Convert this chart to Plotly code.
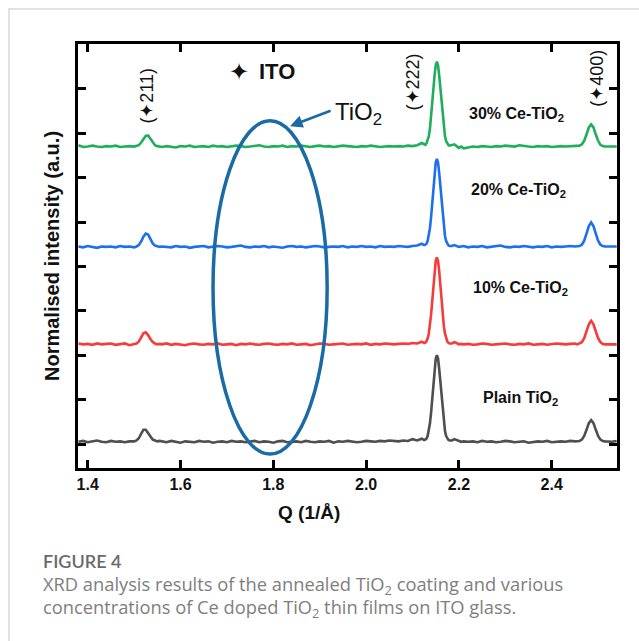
import plotly.graph_objects as go

# ---------------- data ----------------
Q_SCAN = [
    1.38, 1.39, 1.40, 1.41, 1.42, 1.43, 1.44, 1.45, 1.46, 1.47, 1.48, 1.49, 1.50,
    1.505, 1.51, 1.515, 1.52, 1.525, 1.53, 1.535, 1.54, 1.545, 1.55, 1.555,
    1.56, 1.57, 1.58, 1.59, 1.60, 1.61, 1.62, 1.63, 1.64, 1.65,
    1.66, 1.67, 1.68, 1.69, 1.70, 1.71, 1.72, 1.73, 1.74, 1.75,
    1.76, 1.77, 1.78, 1.79, 1.80, 1.81, 1.82, 1.83, 1.84, 1.85,
    1.86, 1.87, 1.88, 1.89, 1.90, 1.91, 1.92, 1.93, 1.94, 1.95,
    1.96, 1.97, 1.98, 1.99, 2.00, 2.01, 2.02, 2.03, 2.04, 2.05,
    2.06, 2.07, 2.08, 2.09, 2.10, 2.11, 2.12,
    2.125, 2.1275, 2.13, 2.1325, 2.135, 2.1375, 2.14, 2.1425, 2.145, 2.1475, 2.15, 2.1525,
    2.155, 2.1575, 2.16, 2.1625, 2.165, 2.1675, 2.17, 2.1725, 2.175, 2.1775, 2.18,
    2.185, 2.19, 2.195, 2.20, 2.205, 2.21,
    2.22, 2.23, 2.24, 2.25, 2.26, 2.27, 2.28, 2.29, 2.30, 2.31,
    2.32, 2.33, 2.34, 2.35, 2.36, 2.37, 2.38, 2.39, 2.40, 2.41,
    2.42, 2.43, 2.44, 2.45,
    2.455, 2.46, 2.465, 2.47, 2.475, 2.48, 2.485, 2.49, 2.495, 2.50, 2.505, 2.51, 2.515,
    2.52, 2.53, 2.54,
]

I_PLAIN = [
    0.0, 0.02, -0.01, 0.01, 0.03, 0.0, -0.01, 0.02, 0.0, 0.01, -0.01, 0.01, 0.01,
    0.03, 0.08, 0.18, 0.27, 0.27, 0.20, 0.11, 0.05, 0.03, 0.01, 0.02,
    0.01, -0.01, 0.02, 0.0, -0.02, 0.01, 0.0, -0.01, 0.02, 0.0,
    0.01, -0.02, 0.0, 0.01, -0.01, 0.02, 0.0, 0.01, -0.01, 0.0,
    0.02, -0.01, 0.01, 0.0, -0.02, 0.01, 0.02, -0.01, 0.0, 0.01,
    -0.01, 0.02, 0.0, -0.01, 0.01, 0.0, 0.02, -0.02, 0.01, 0.0,
    0.02, 0.01, -0.01, 0.0, 0.02, 0.01, 0.0, 0.02, 0.01, 0.03,
    0.02, 0.01, 0.03, 0.02, 0.06, 0.03, 0.07,
    0.04, 0.05, 0.07, 0.13, 0.24, 0.41, 0.66, 0.98, 1.33, 1.64, 1.87, 1.95,
    1.88, 1.64, 1.33, 0.98, 0.67, 0.42, 0.24, 0.13, 0.07, 0.04, 0.03,
    0.03, 0.06, 0.04, 0.01, 0.0, 0.01,
    0.0, 0.01, -0.01, 0.02, 0.0, 0.01, -0.01, 0.0, 0.02, 0.01,
    -0.01, 0.0, 0.01, -0.02, 0.0, 0.01, 0.0, 0.02, -0.01, 0.0,
    0.01, 0.0, 0.02, 0.01,
    0.01, 0.02, 0.05, 0.13, 0.27, 0.42, 0.49, 0.42, 0.27, 0.13, 0.05, 0.02, 0.01,
    0.01, 0.0, 0.02,
]

I_CE10 = [
    0.02, 0.0, 0.01, -0.01, 0.02, 0.0, 0.01, 0.02, -0.01, 0.0, 0.02, -0.02, 0.0,
    0.02, 0.06, 0.16, 0.25, 0.27, 0.21, 0.12, 0.05, 0.02, 0.0, 0.01,
    0.0, 0.02, -0.01, 0.01, 0.0, -0.02, 0.01, 0.02, 0.0, -0.01,
    0.01, 0.0, 0.02, -0.01, 0.0, 0.01, -0.02, 0.01, 0.0, 0.02,
    0.0, -0.01, 0.01, 0.02, 0.0, -0.01, 0.01, 0.0, 0.02, -0.01,
    0.0, 0.01, -0.02, 0.0, 0.02, 0.01, -0.01, 0.0, 0.01, 0.02,
    -0.01, 0.0, 0.01, 0.0, 0.02, -0.01, 0.01, 0.0, 0.02, 0.01,
    0.0, 0.01, 0.02, 0.01, 0.03, 0.02, 0.06,
    0.03, 0.04, 0.07, 0.13, 0.24, 0.41, 0.67, 0.98, 1.33, 1.65, 1.88, 1.96,
    1.88, 1.65, 1.33, 0.98, 0.67, 0.41, 0.24, 0.13, 0.06, 0.03, 0.02,
    0.02, 0.05, 0.03, 0.0, 0.01, 0.0,
    0.01, -0.01, 0.0, 0.02, 0.01, -0.01, 0.0, 0.01, 0.02, 0.0,
    -0.01, 0.01, 0.0, 0.02, -0.01, 0.0, 0.01, -0.01, 0.0, 0.02,
    0.01, 0.0, 0.01, 0.02,
    0.0, 0.02, 0.05, 0.14, 0.29, 0.45, 0.53, 0.45, 0.29, 0.14, 0.05, 0.01, 0.0,
    0.0, 0.01, 0.0,
]

I_CE20 = [
    0.01, -0.01, 0.02, 0.0, -0.02, 0.01, 0.0, 0.01, -0.01, 0.02, 0.0, 0.01, -0.01,
    0.01, 0.04, 0.12, 0.23, 0.30, 0.28, 0.18, 0.08, 0.03, 0.01, 0.0,
    0.01, 0.0, -0.01, 0.02, 0.0, 0.01, -0.02, 0.0, 0.01, 0.02,
    -0.01, 0.0, 0.02, 0.01, -0.01, 0.0, 0.01, 0.03, 0.0, -0.01,
    0.01, 0.0, 0.02, -0.01, 0.01, 0.0, -0.02, 0.01, 0.02, 0.0,
    0.01, -0.01, 0.0, 0.02, 0.01, -0.01, 0.0, 0.01, 0.0, 0.02,
    -0.01, 0.01, 0.0, 0.02, 0.0, 0.01, -0.01, 0.02, 0.0, 0.01,
    0.0, 0.02, 0.01, 0.0, 0.02, 0.03, 0.07,
    0.04, 0.05, 0.07, 0.13, 0.24, 0.42, 0.67, 0.99, 1.35, 1.66, 1.90, 1.98,
    1.90, 1.66, 1.35, 0.99, 0.67, 0.42, 0.24, 0.13, 0.06, 0.03, 0.02,
    0.02, 0.04, 0.02, 0.0, 0.01, 0.02,
    -0.01, 0.01, 0.0, 0.02, -0.01, 0.0, 0.01, 0.03, 0.0, -0.01,
    0.01, 0.0, 0.02, 0.0, -0.01, 0.01, 0.0, 0.02, -0.01, 0.01,
    0.0, 0.01, 0.02, 0.01,
    0.01, 0.02, 0.05, 0.14, 0.30, 0.47, 0.55, 0.47, 0.30, 0.14, 0.05, 0.02, 0.01,
    0.01, 0.0, 0.01,
]

I_CE30 = [
    0.03, -0.01, 0.0, 0.02, 0.0, -0.01, 0.01, 0.0, 0.02, -0.01, 0.0, 0.01, 0.0,
    0.01, 0.03, 0.09, 0.18, 0.24, 0.25, 0.18, 0.09, 0.03, 0.01, 0.0,
    -0.01, 0.01, 0.0, -0.02, 0.01, 0.0, 0.02, -0.01, 0.0, 0.01,
    -0.01, 0.02, 0.0, 0.01, -0.01, 0.0, 0.02, 0.01, -0.01, 0.0,
    0.01, 0.03, 0.0, -0.01, 0.01, 0.0, 0.02, -0.01, 0.01, 0.0,
    0.02, 0.0, -0.01, 0.01, 0.02, 0.0, 0.01, -0.01, 0.0, 0.02,
    0.01, 0.0, -0.01, 0.01, 0.0, 0.02, 0.01, -0.01, 0.0, 0.01,
    0.0, 0.01, 0.0, 0.02, 0.01, 0.03, 0.08,
    0.05, 0.04, 0.07, 0.13, 0.23, 0.40, 0.65, 0.96, 1.30, 1.60, 1.83, 1.91,
    1.83, 1.60, 1.30, 0.96, 0.65, 0.40, 0.23, 0.12, 0.06, 0.03, 0.02,
    0.03, 0.05, 0.01, -0.03, 0.0, -0.04,
    -0.02, 0.0, -0.01, 0.01, 0.0, -0.01, 0.01, 0.0, 0.02, 0.01,
    0.0, 0.03, 0.01, 0.0, -0.01, 0.01, 0.0, 0.01, -0.01, 0.0,
    0.01, 0.0, 0.01, 0.02,
    0.01, 0.02, 0.05, 0.13, 0.27, 0.43, 0.50, 0.43, 0.27, 0.13, 0.04, 0.01, 0.0,
    0.0, 0.01, 0.0,
]

SERIES_NAMES = ["Plain TiO<sub>2</sub>", "10% Ce-TiO<sub>2</sub>",
                "20% Ce-TiO<sub>2</sub>", "30% Ce-TiO<sub>2</sub>"]
SERIES_DATA = [I_PLAIN, I_CE10, I_CE20, I_CE30]
SERIES_OFFSETS = [0.05, 2.245, 4.44, 6.70]
SERIES_COLORS = ["#4f4f4f", "#f63b3b", "#1d6ff0", "#1fae5c"]
# label positions (Q, offset units)
LABEL_Q = [2.2477, 2.2260, 2.2218, 2.2175]
LABEL_Y = [1.03, 3.50, 5.72, 7.42]

PEAK_LABELS = ["(✦211)", "(✦222)", "(✦400)"]
PEAK_LABEL_Q = [1.527, 2.1017, 2.499]
PEAK_LABEL_Y = [7.84, 8.15, 8.24]

X_TICKS = [1.4, 1.6, 1.8, 2.0, 2.2, 2.4]
X_RANGE = [1.379, 2.5407]
Y_RANGE = [-0.54, 9.01]

for d in SERIES_DATA:
    assert len(d) == len(Q_SCAN), (len(d), len(Q_SCAN))

FONT = "Liberation Sans, Arial, Helvetica, sans-serif"
ELLIPSE_COLOR = "#1a6aa5"

fig = go.Figure()
for name, data, off, col in zip(SERIES_NAMES, SERIES_DATA, SERIES_OFFSETS, SERIES_COLORS):
    fig.add_trace(go.Scatter(
        x=Q_SCAN, y=[v + off for v in data], mode="lines",
        line=dict(color=col, width=2.6), name=name, showlegend=False,
        hoverinfo="skip",
    ))

W, H = 639, 641
ML, MR, MT, MB = 78, 22, 44, 173
PW = W - ML - MR
PH = H - MT - MB


def px(x):
    return (x - ML) / PW


def py(y):
    return (H - MB - y) / PH


annotations = []
# sample labels
for name, q, y in zip(SERIES_NAMES, LABEL_Q, LABEL_Y):
    annotations.append(dict(x=q, y=y, xref="x", yref="y", text=name, showarrow=False,
                            xanchor="left", yanchor="middle",
                            font=dict(family=FONT, size=16, color="#111", weight="bold")))
# peak labels (rotated)
for t, q, y in zip(PEAK_LABELS, PEAK_LABEL_Q, PEAK_LABEL_Y):
    annotations.append(dict(x=q, y=y, xref="x", yref="y", text=t, showarrow=False,
                            textangle=-90, xanchor="center", yanchor="middle",
                            font=dict(family=FONT, size=18, color="#111")))
# ITO legend
annotations.append(dict(x=1.727, y=8.38, xref="x", yref="y", text="✦", showarrow=False,
                        xanchor="center", yanchor="middle",
                        font=dict(family="DejaVu Sans", size=24, color="#111")))
annotations.append(dict(x=1.765, y=8.385, xref="x", yref="y", text="ITO", showarrow=False,
                        xanchor="left", yanchor="middle",
                        font=dict(family=FONT, size=22, color="#111", weight="bold")))
# TiO2 callout
annotations.append(dict(x=1.9287, y=7.44, xref="x", yref="y", text="TiO<sub>2</sub>",
                        showarrow=False, xanchor="left", yanchor="middle",
                        font=dict(family=FONT, size=24, color="#111")))
annotations.append(dict(x=1.836, y=7.16, xref="x", yref="y", text="", showarrow=True,
                        ax=42, ay=-16, arrowhead=2, arrowsize=1, arrowwidth=2.5,
                        arrowcolor=ELLIPSE_COLOR, standoff=0))
# axis titles
annotations.append(dict(x=px(309), y=py(512), xref="paper", yref="paper", text="Q (1/Å)",
                        showarrow=False, xanchor="center", yanchor="middle",
                        font=dict(family=FONT, size=19, color="#111", weight="bold")))
annotations.append(dict(x=px(52), y=0.5, xref="paper", yref="paper",
                        text="Normalised intensity (a.u.)", textangle=-90,
                        showarrow=False, xanchor="center", yanchor="middle",
                        font=dict(family=FONT, size=20, color="#111", weight="bold")))
# caption
annotations.append(dict(x=px(41), y=py(561), xref="paper", yref="paper", text="FIGURE 4",
                        showarrow=False, xanchor="left", yanchor="middle",
                        font=dict(family="Lato", size=18, color="#6a6a6a", weight=600)))
annotations.append(dict(x=px(41), y=py(585), xref="paper", yref="paper",
                        text="XRD analysis results of the annealed TiO<sub>2</sub> coating and various",
                        showarrow=False, xanchor="left", yanchor="middle",
                        font=dict(family="Open Sans", size=18.3, color="#7e7e7e")))
annotations.append(dict(x=px(41), y=py(608), xref="paper", yref="paper",
                        text="concentrations of Ce doped TiO<sub>2</sub> thin films on ITO glass.",
                        showarrow=False, xanchor="left", yanchor="middle",
                        font=dict(family="Open Sans", size=18.3, color="#7e7e7e")))

shapes = [
    # TiO2 ellipse
    dict(type="circle", xref="x", yref="y", x0=1.670, x1=1.916, y0=-0.225, y1=7.28,
         line=dict(color=ELLIPSE_COLOR, width=3.5), layer="above"),
    # card border
    dict(type="rect", xref="paper", yref="paper", x0=px(9), x1=px(660), y0=py(660), y1=py(9),
         line=dict(color="#d9d9d9", width=1.5), layer="below"),
]

fig.update_layout(
    width=W, height=H,
    margin=dict(l=ML, r=MR, t=MT, b=MB, pad=0),
    paper_bgcolor="white", plot_bgcolor="white",
    annotations=annotations, shapes=shapes,
    xaxis=dict(range=X_RANGE, tickvals=X_TICKS, ticktext=[f"{v:.1f}" for v in X_TICKS],
               ticks="inside", ticklen=8, tickwidth=3, tickcolor="black",
               showline=True, linewidth=3, linecolor="black", mirror="ticks",
               showgrid=False, zeroline=False,
               tickfont=dict(family=FONT, size=16, color="#111", weight="bold")),
    yaxis=dict(range=Y_RANGE, tick0=0, dtick=1,
               ticks="inside", ticklen=8, tickwidth=3, tickcolor="black",
               showline=True, linewidth=3, linecolor="black", mirror="ticks",
               showgrid=False, zeroline=False, showticklabels=False),
)

fig.write_html("out.html")
